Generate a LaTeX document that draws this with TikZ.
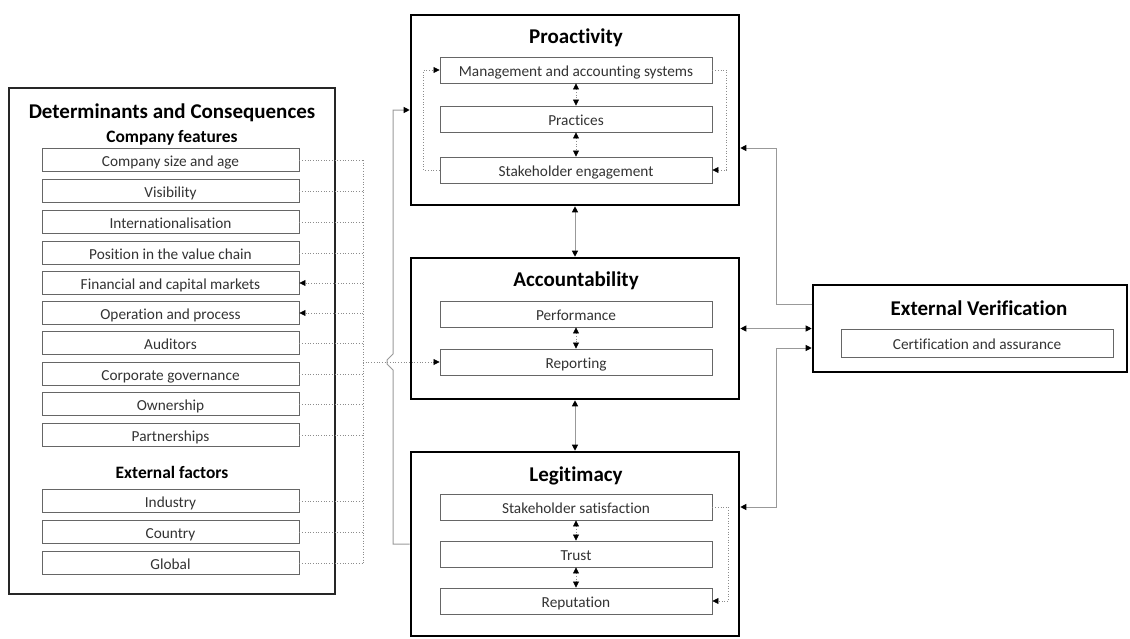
\documentclass[tikz,border=0pt]{standalone}
\usepackage{fontspec}
\setmainfont{Carlito}[Ligatures={NoCommon}]
\usetikzlibrary{arrows.meta,calc}
\begin{document}
\begin{tikzpicture}[x=1pt,y=-1pt,
  bigbox/.style={draw=black,line width=2.6pt,inner sep=0pt},
  leftbox/.style={draw=black!85,line width=1.5pt,inner sep=0pt},
  item/.style={draw=black!60,line width=0.9pt,fill=white,inner sep=0pt,font=\fontsize{15.3}{17}\selectfont,text=black!80,text height=12pt,text depth=0pt},
  litem/.style={item,minimum width=257pt,minimum height=23pt},
  pitem/.style={item,minimum width=272pt,minimum height=26pt},
  bigtitle/.style={font=\fontsize{21}{24}\bfseries\selectfont},
  subtitle/.style={font=\fontsize{17.4}{20}\bfseries\selectfont},
  dotline/.style={draw=black!45,line width=0.7pt,dotted},
  grayline/.style={draw=black!40,line width=1pt},
  tip/.style={-{Triangle[length=6pt,width=6pt,color=black]}},
  tips/.style={{Triangle[length=6pt,width=6pt,color=black]}-{Triangle[length=6pt,width=6pt,color=black]}}
]
\useasboundingbox (0,0) rectangle (1130,638);

% Left box
\node[leftbox,minimum width=326pt,minimum height=506pt] (det) at (172,341) {};
\node[bigtitle] (dettitle) at (172,113) {Determinants and Consequences};
\node[subtitle] (cf) at (172,138) {Company features};
\node[litem] (i1) at (170.5,160) {Company size and age};
\node[litem] (i2) at (170.5,191) {Visibility};
\node[litem] (i3) at (170.5,222) {Internationalisation};
\node[litem] (i4) at (170.5,253) {Position in the value chain};
\node[litem] (i5) at (170.5,283) {Financial and capital markets};
\node[litem] (i6) at (170.5,313) {Operation and process};
\node[litem] (i7) at (170.5,343) {Auditors};
\node[litem] (i8) at (170.5,374) {Corporate governance};
\node[litem] (i9) at (170.5,404) {Ownership};
\node[litem] (i10) at (170.5,435) {Partnerships};
\node[subtitle] (ef) at (172,472) {External factors};
\node[litem] (e1) at (170.5,501) {Industry};
\node[litem] (e2) at (170.5,532) {Country};
\node[litem] (e3) at (170.5,563) {Global};

% Proactivity
\node[bigbox,minimum width=328pt,minimum height=190pt] (pro) at (575,110) {};
\node[bigtitle] (protitle) at (576,38) {Proactivity};
\node[pitem] (p1) at (576,70) {Management and accounting systems};
\node[pitem] (p2) at (576,119) {Practices};
\node[pitem] (p3) at (576,170) {Stakeholder engagement};

% Accountability
\node[bigbox,minimum width=328pt,minimum height=141pt] (acc) at (575,328.5) {};
\node[bigtitle] (acctitle) at (576,281) {Accountability};
\node[pitem] (a1) at (576,314) {Performance};
\node[pitem] (a2) at (576,362) {Reporting};

% Legitimacy
\node[bigbox,minimum width=328pt,minimum height=184pt] (leg) at (575,544) {};
\node[bigtitle] (legtitle) at (576,476) {Legitimacy};
\node[pitem] (l1) at (576,507) {Stakeholder satisfaction};
\node[pitem] (l2) at (576,554) {Trust};
\node[pitem] (l3) at (576,601) {Reputation};

% External verification
\node[bigbox,minimum width=314pt,minimum height=87pt] (ext) at (970,328.5) {};
\node[bigtitle] (exttitle) at (979,308) {External Verification};
\node[pitem,minimum height=28pt] (cert) at (977,343) {Certification and assurance};

% Coordinates
\coordinate (bus) at (363,0);
\coordinate (hopx) at (393,0);
\coordinate (evx) at (776,0);
\coordinate (hop) at (a2.west -| hopx);
\coordinate (ev1) at ($(ext.north west)+(0,21)$);
\coordinate (pr1) at ($(pro.east)+(0,38)$);
\coordinate (ev3) at ($(ext.west)+(0,19.5)$);

% Dotted feeders from left items
\foreach \n in {i1,i2,i3,i4,i7,i8,i9,i10,e1,e2,e3}{
  \draw[dotline] (\n.east) -- (\n.east -| bus);
}
\foreach \n in {i5,i6}{
  \draw[dotline,tip] (\n.east -| bus) -- (\n.east);
}
\draw[dotline] (i1.east -| bus) -- (e3.east -| bus);
\draw[dotline,tip] (a2.west -| bus) -- (a2.west);

% Gray connector Legitimacy -> Proactivity with hop
\draw[grayline,tip] (leg.west) -- (leg.west -| hopx) -- ($(hop)+(0,8)$) -- ($(hop)+(-6,2)$) -- ($(hop)+(-6,-2)$) -- ($(hop)+(0,-8)$) -- (pro.west -| hopx) -- (pro.west);

% Proactivity inner loops
\draw[dotline,tip] (p3.west) -- ++(-16,0) |- (p1.west);
\draw[dotline,tip] (p1.east) -- ++(14,0) |- (p3.east);
\draw[dotline,tips] (p1.south) -- (p2.north);
\draw[dotline,tips] (p2.south) -- (p3.north);

% Accountability inner
\draw[dotline,tips] (a1.south) -- (a2.north);

% Legitimacy inner
\draw[dotline,tips] (l1.south) -- (l2.north);
\draw[dotline,tips] (l2.south) -- (l3.north);
\draw[dotline,tip] (l1.east) -- ++(16,0) |- (l3.east);

% Between main boxes
\draw[grayline,tips] (pro.south) -- (acc.north);
\draw[grayline,tips] (acc.south) -- (leg.north);

% External verification connectors
\draw[grayline,tip] (ev1) -- (ev1 -| evx) -- (pr1 -| evx) -- (pr1);
\draw[grayline,tips] (acc.east) -- (ext.west);
\draw[grayline,tips] (l1.east -| leg.east) -- (l1.east -| evx) -- (ev3 -| evx) -- (ev3);
\end{tikzpicture}
\end{document}
